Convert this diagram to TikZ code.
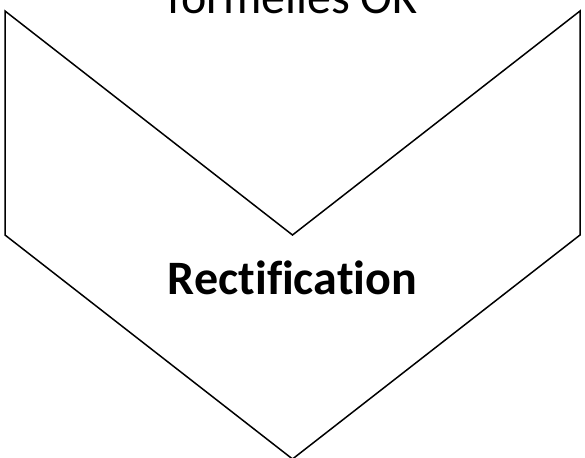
\documentclass[tikz,border=0pt]{standalone}
\usepackage{fontspec}
\setmainfont{Carlito}[Ligatures=NoCommon]
\begin{document}
\begin{tikzpicture}[x=1pt,y=-1pt,
  chevronline/.style={draw=black,line width=1.5pt,line join=miter},
  labeltext/.style={font=\fontsize{48}{56}\selectfont,inner sep=0pt,anchor=base}]
\useasboundingbox (0,0) rectangle (585,457);
\clip (0,0) rectangle (585,457);
\fill[white] (0,0) rectangle (585,457);
\draw[chevronline] (5,11) -- (292.5,235) -- (580,11) -- (580,235) -- (292.5,459) -- (5,235) -- cycle;
\node[labeltext] (top) at (292.5,13.5) {formelles OK};
\node[labeltext,font=\fontsize{48}{56}\selectfont\bfseries] (main) at (292.5,294) {Rectification};
\end{tikzpicture}
\end{document}
